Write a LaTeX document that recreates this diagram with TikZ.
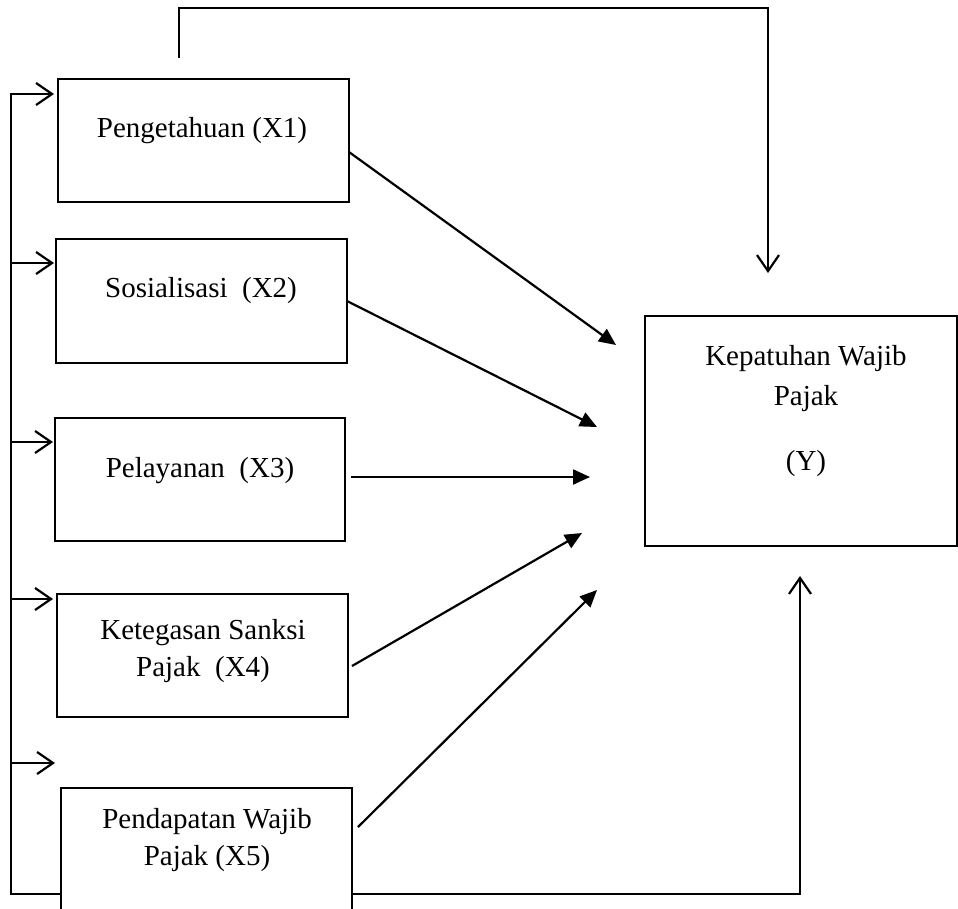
\documentclass[tikz,border=0pt]{standalone}
\usepackage{fontspec}
\setmainfont{Liberation Serif}
\usetikzlibrary{arrows.meta}
\begin{document}
\begin{tikzpicture}[x=1pt,y=-1pt,
  box/.style={draw, line width=2.6pt, fill=white, inner sep=0pt, outer sep=0pt, anchor=north west},
  ybox/.style={draw, line width=1.6pt, inner sep=0pt, outer sep=0pt, anchor=north west},
  lbl/.style={font=\fontsize{29}{37}\selectfont, align=center, inner sep=0pt},
  conn/.style={line width=2.2pt, line join=miter},
  openarr/.style={conn, -{Straight Barb[length=16pt,width=22pt]}},
  filledarr/.style={conn, -{Triangle[length=17pt,width=15pt]}},
]
\useasboundingbox (0,0) rectangle (958,908);
\clip (0,0) rectangle (958,908);

% boxes
\node[box, minimum width=291pt, minimum height=123pt] (x1) at (58,79) {};
\node[box, minimum width=291pt, minimum height=124pt] (x2) at (56,239) {};
\node[box, minimum width=290pt, minimum height=123pt] (x3) at (55,418) {};
\node[box, minimum width=291pt, minimum height=123pt] (x4) at (57,594) {};
\node[ybox, minimum width=312pt, minimum height=230pt] (y) at (645,316) {};

% coordinates
\coordinate (t0) at (179,58);
\coordinate (t1) at (179,8);
\coordinate (t2) at (768,8);
\coordinate (t3) at (768,273);
\coordinate (l1) at (11,94);
\coordinate (l2) at (11,263);
\coordinate (l3) at (11,442);
\coordinate (l4) at (11,599);
\coordinate (l5) at (11,763);
\coordinate (lb) at (11,894);
\coordinate (rb) at (800,894);
\coordinate (ru) at (800,576);
\coordinate (a1) at (616,345);
\coordinate (a2) at (597,427);
\coordinate (a3) at (590,477);
\coordinate (a4) at (582,533);
\coordinate (a5) at (597,590);

% top feedback
\draw[openarr] (t0) -- (t1) -- (t2) -- (t3);

% left/bottom feedback
\draw[conn, {Straight Barb[length=16pt,width=22pt]}-{Straight Barb[length=16pt,width=22pt]}, shorten <=4pt]
  (l1 -| x1.west) -- (l1) -- (lb) -- (rb) -- (ru);
\draw[openarr, shorten >=2pt] (l2) -- (l2 -| x2.west);
\draw[openarr, shorten >=2pt] (l3) -- (l3 -| x3.west);
\draw[openarr, shorten >=4pt] (l4) -- (l4 -| x4.west);
\draw[openarr] (l5) -- ([xshift=44pt]l5);

% bottom box drawn over the line
\node[box, minimum width=291pt, minimum height=130pt] (x5) at (61,788) {};

% main arrows
\draw[filledarr] ([yshift=-11.5pt]x1.east) -- (a1);
\draw[filledarr] (x2.east) -- (a2);
\draw[filledarr] ([xshift=6pt,yshift=2.5pt]x3.east) -- (a3);
\draw[filledarr] ([xshift=4pt,yshift=-10.5pt]x4.east) -- (a4);
\draw[filledarr] ([xshift=6pt,yshift=26pt]x5.east) -- (a5);

% labels
\node[lbl] (lx1) at (202,131) {Pengetahuan (X1)};
\node[lbl] (lx2) at (201,291) {Sosialisasi\ \ (X2)};
\node[lbl] (lx3) at (200,471) {Pelayanan\ \ (X3)};
\node[lbl] (lx4) at (203,651) {Ketegasan Sanksi\\Pajak\ \ (X4)};
\node[lbl] (lx5) at (207,840) {Pendapatan Wajib\\Pajak (X5)};
\node[lbl, font=\fontsize{29}{40}\selectfont] (ly) at (806,411) {Kepatuhan Wajib\\Pajak\\[25pt](Y)};
\end{tikzpicture}
\end{document}
